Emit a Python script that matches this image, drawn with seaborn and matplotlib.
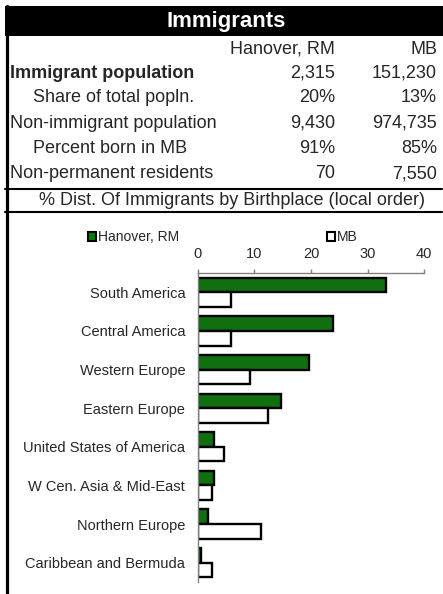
import pandas as pd
import matplotlib
matplotlib.use("Agg")
from matplotlib import pyplot as plt
from matplotlib.patches import Rectangle, Patch
from matplotlib.lines import Line2D
import seaborn as sns

# data
places = ["South America", "Central America", "Western Europe", "Eastern Europe",
          "United States of America", "W Cen. Asia & Mid-East", "Northern Europe",
          "Caribbean and Bermuda"]
hanover_pct = [33.2, 23.8, 19.7, 14.7, 2.9, 2.8, 1.8, 0.6]
mb_pct = [5.9, 5.9, 9.2, 12.4, 4.6, 2.5, 11.2, 2.6]
series_names = ["Hanover, RM", "MB"]
x_ticks = [0, 10, 20, 30, 40]

table_rows = ["Immigrant population", "Share of total popln.", "Non-immigrant population",
              "Percent born in MB", "Non-permanent residents"]
table_hanover = ["2,315", "20%", "9,430", "91%", "70"]
table_mb = ["151,230", "13%", "974,735", "85%", "7,550"]

W, H = 443, 594


def fx(px):
    return px / W


def fy(py):
    return 1 - py / H


df = pd.DataFrame({
    "place": places * 2,
    "pct": hanover_pct + mb_pct,
    "area": [series_names[0]] * len(places) + [series_names[1]] * len(places),
})

sns.set_style("white")
plt.rcParams["font.family"] = ["Liberation Sans", "DejaVu Sans"]

fig = plt.figure(figsize=(W / 100, H / 100), dpi=100)

# header block
fig.patches.append(Rectangle((fx(5), fy(36)), fx(438), 30 / H, transform=fig.transFigure,
                             facecolor="black", edgecolor="none"))
fig.text(fx(226), fy(21), "Immigrants", color="white", fontsize=16, fontweight="bold",
         ha="center", va="center")
fig.text(fx(335), fy(49), series_names[0], fontsize=13, ha="right", va="center")
fig.text(fx(437), fy(49), series_names[1], fontsize=13, ha="right", va="center")

row_y = [73, 98, 123, 148.5, 174]
for i, (lab, hv, mv) in enumerate(zip(table_rows, table_hanover, table_mb)):
    indent = 33 if i in (1, 3) else 10
    weight = "bold" if i == 0 else "normal"
    fig.text(fx(indent), fy(row_y[i]), lab, fontsize=13, fontweight=weight, ha="left", va="center")
    fig.text(fx(335), fy(row_y[i]), hv, fontsize=13, ha="right", va="center")
    fig.text(fx(437), fy(row_y[i]), mv, fontsize=13, ha="right", va="center")

fig.text(fx(232), fy(200.5), "% Dist. Of Immigrants by Birthplace (local order)",
         fontsize=13, ha="center", va="center")

# border lines
fig.lines.append(Line2D([fx(6.5), fx(6.5)], [fy(6), fy(594)], transform=fig.transFigure,
                        color="black", linewidth=2.3))
for yy in (189.3, 212.3):
    fig.lines.append(Line2D([fx(5), fx(442)], [fy(yy), fy(yy)], transform=fig.transFigure,
                            color="black", linewidth=1.5))

# bar chart
ax = fig.add_axes([fx(197.7), fy(582), fx(226.6), 309 / H])
sns.barplot(data=df, y="place", x="pct", hue="area", order=places, hue_order=series_names,
            palette={series_names[0]: "#008000", series_names[1]: "white"},
            edgecolor="black", linewidth=1.7, width=0.76, orient="h", ax=ax, legend=False)

ax.set_xlim(0, 40)
ax.set_ylim(len(places) - 0.5, -0.5)
ax.set_xticks(x_ticks)
ax.xaxis.tick_top()
ax.set_xlabel("")
ax.set_ylabel("")
ax.set_yticks(range(len(places)))
ax.set_yticklabels(places)
ax.set_yticks([i - 0.5 for i in range(len(places) + 1)], minor=True)
ax.tick_params(axis="y", which="major", length=0, pad=9, labelsize=10.5)
ax.tick_params(axis="y", which="minor", length=3, color="gray", width=1, direction="out")
ax.tick_params(axis="x", length=3, color="gray", width=1, direction="out", pad=6, labelsize=10.5)
for s in ("bottom", "right"):
    ax.spines[s].set_visible(False)
for s in ("top", "left"):
    ax.spines[s].set_color("gray")
    ax.spines[s].set_linewidth(1)

handles = [Patch(facecolor="#008000", edgecolor="black", linewidth=1.5, label=series_names[0]),
           Patch(facecolor="white", edgecolor="black", linewidth=1.5, label=series_names[1])]
fig.legend(handles=handles, loc="center left", bbox_to_anchor=(fx(88), fy(237)), ncol=2,
           frameon=False, fontsize=10, handlelength=0.6, handleheight=0.6, handletextpad=0.15,
           columnspacing=10.6, borderpad=0, borderaxespad=0)

fig.savefig("out.png", dpi=100)
